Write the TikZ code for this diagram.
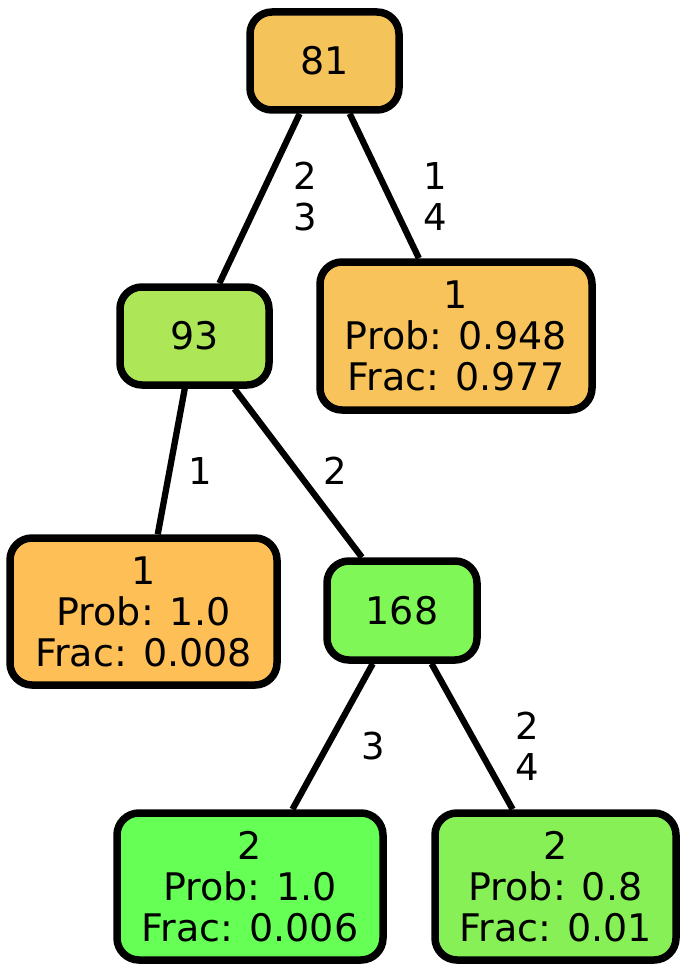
\documentclass[tikz,border=0pt]{standalone}
\usepackage{fontspec}
\setmainfont{DejaVu Sans}
\begin{document}
\begin{tikzpicture}[x=1pt,y=-1pt,
  box/.style={draw=black,line width=7.5pt,rounded corners=22pt,align=center,inner sep=0pt,
    font=\fontsize{38}{41}\selectfont},
  edge/.style={line width=6.3pt},
  elabel/.style={align=center,inner sep=0pt,font=\fontsize{37}{41}\selectfont}]
\useasboundingbox (0,0) rectangle (688,971);
\definecolor{cA}{HTML}{F4C35A}
\definecolor{cB}{HTML}{ADE657}
\definecolor{cC}{HTML}{F7C35A}
\definecolor{cD}{HTML}{FEBF57}
\definecolor{cE}{HTML}{7FF756}
\definecolor{cF}{HTML}{66FF55}
\definecolor{cG}{HTML}{87F057}
\node[box,fill=cA,minimum width=149pt,minimum height=98pt] (n81) at (324.5,61) {81};
\node[box,fill=cB,minimum width=149pt,minimum height=98pt] (n93) at (194.5,336) {93};
\node[box,fill=cC,minimum width=272pt,minimum height=148pt] (r1) at (456,336) {1\\Prob: 0.948\\Frac: 0.977};
\node[box,fill=cD,minimum width=267pt,minimum height=147pt] (l1) at (143.5,611.5) {1\\Prob: 1.0\\Frac: 0.008};
\node[box,fill=cE,minimum width=150pt,minimum height=99pt] (n168) at (402,610.5) {168};
\node[box,fill=cF,minimum width=266pt,minimum height=147pt] (l2) at (250,886.5) {2\\Prob: 1.0\\Frac: 0.006};
\node[box,fill=cG,minimum width=241pt,minimum height=147pt] (r2) at (555.5,886.5) {2\\Prob: 0.8\\Frac: 0.01};
\draw[edge] (n81) -- (n93);
\draw[edge] (n81) -- (r1);
\draw[edge] (n93) -- (l1);
\draw[edge] (n93) -- (n168);
\draw[edge] (n168) -- (l2);
\draw[edge] (n168) -- (r2);
\node[elabel] (e1) at (305,197) {2\\3};
\node[elabel] (e2) at (435,197) {1\\4};
\node[elabel] (e3) at (200,471) {1};
\node[elabel] (e4) at (335,471) {2};
\node[elabel] (e5) at (373,746) {3};
\node[elabel] (e6) at (527,746) {2\\4};
\end{tikzpicture}
\end{document}
